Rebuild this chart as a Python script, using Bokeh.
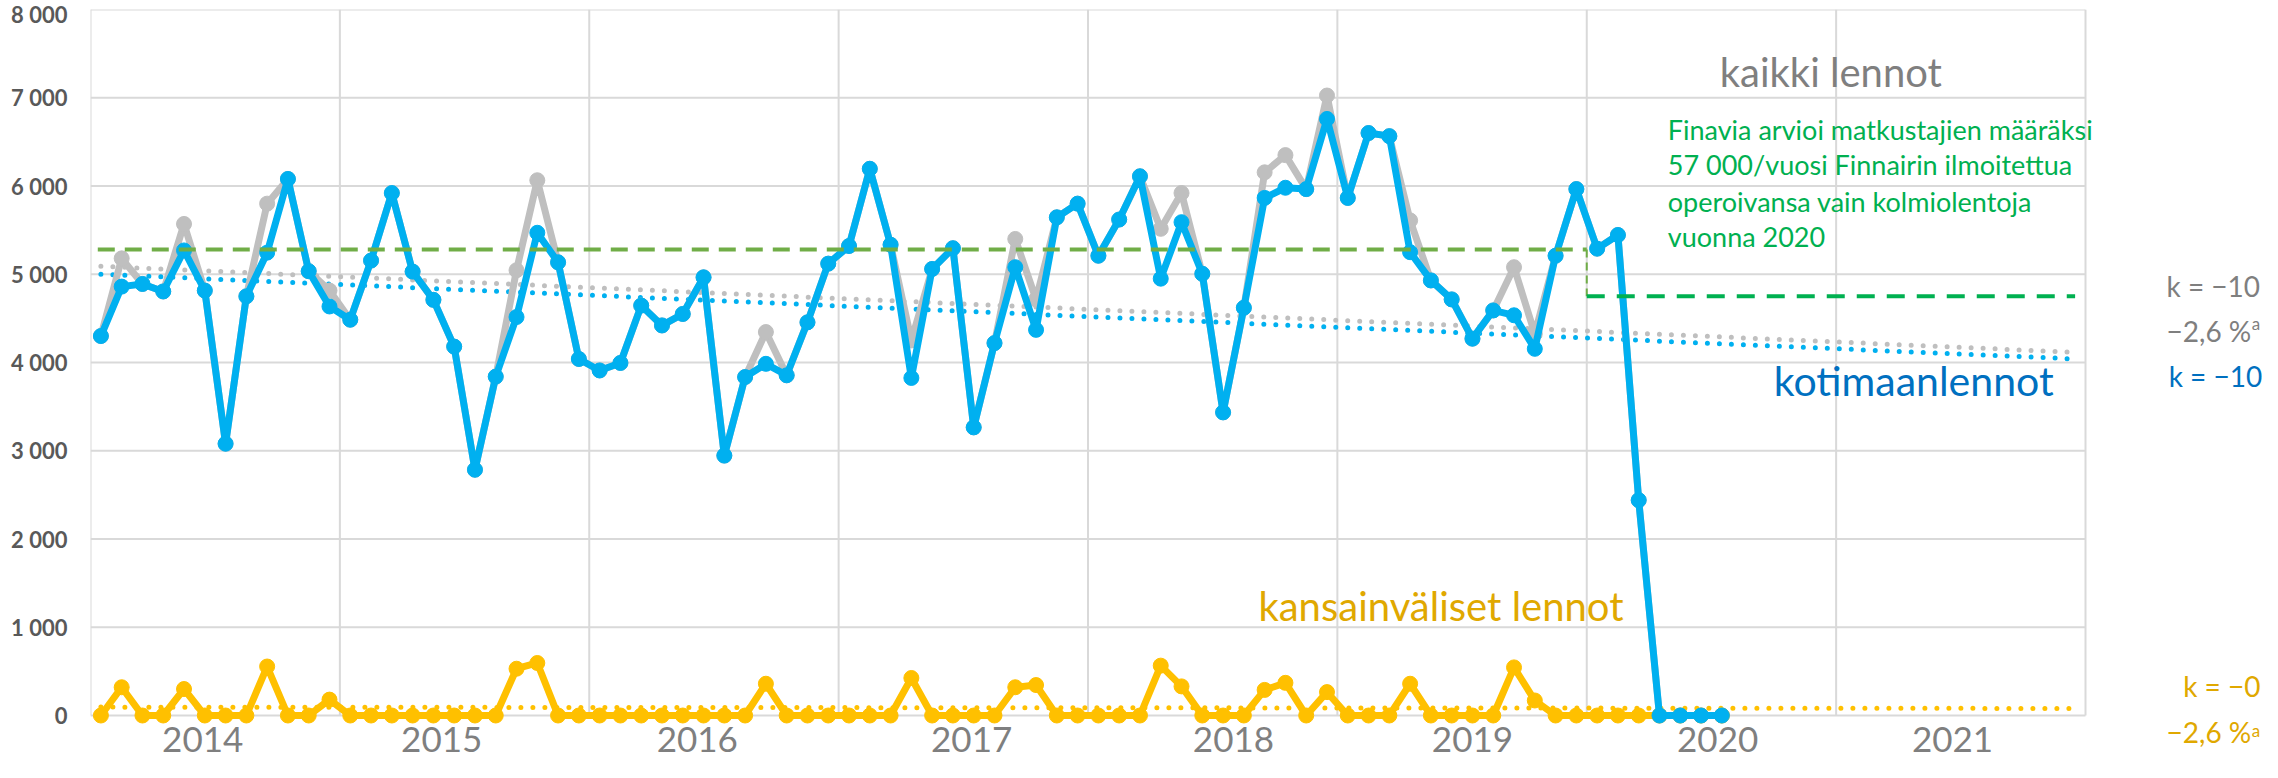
from bokeh.plotting import figure
from bokeh.models import Range1d, FixedTicker, Label, CustomJSTickFormatter
from bokeh.core.properties import value
from bokeh.embed import file_html
from bokeh.resources import INLINE

# ---------------- data (monthly passengers, Jan 2014 -> Jul 2020) ----------------
kotimaan = [4300, 4860, 4890, 4805, 5270, 4815, 3080, 4750, 5245, 6080, 5035, 4635,
            4485, 5155, 5920, 5030, 4710, 4180, 2785, 3840, 4515, 5470, 5135, 4040,
            3910, 3995, 4645, 4420, 4550, 4965, 2945, 3835, 3985, 3855, 4455, 5120,
            5320, 6195, 5335, 3825, 5060, 5295, 3265, 4220, 5080, 4370, 5645, 5800,
            5210, 5620, 6110, 4950, 5590, 5005, 3435, 4620, 5865, 5980, 5965, 6760,
            5865, 6600, 6565, 5250, 4930, 4715, 4270, 4590, 4535, 4155, 5210, 5965,
            5290, 5445, 2440, 0, 0, 0, 0]
kansainvaliset = [0, 320, 0, 0, 300, 0, 0, 0, 555, 0, 0, 180,
                  0, 0, 0, 0, 0, 0, 0, 0, 530, 595, 0, 0,
                  0, 0, 0, 0, 0, 0, 0, 0, 360, 0, 0, 0,
                  0, 0, 0, 425, 0, 0, 0, 0, 320, 345, 0, 0,
                  0, 0, 0, 565, 330, 0, 0, 0, 290, 370, 0, 265,
                  0, 0, 0, 360, 0, 0, 0, 0, 545, 170, 0, 0,
                  0, 0, 0, 0, 0, 0, 0]
kaikki = [4300, 5180, 4890, 4805, 5570, 4815, 3080, 4750, 5800, 6080, 5035, 4815,
          4485, 5155, 5920, 5030, 4710, 4180, 2785, 3840, 5045, 6065, 5135, 4040,
          3910, 3995, 4645, 4420, 4550, 4965, 2945, 3835, 4345, 3855, 4455, 5120,
          5320, 6195, 5335, 4250, 5060, 5295, 3265, 4220, 5400, 4715, 5645, 5800,
          5210, 5620, 6110, 5515, 5920, 5005, 3435, 4620, 6155, 6350, 5965, 7025,
          5865, 6600, 6565, 5610, 4930, 4715, 4270, 4590, 5080, 4325, 5210, 5965,
          5290, 5445, 2440, 0, 0, 0, 0]
month_index = list(range(len(kotimaan)))

# linear trend lines (month index, value)
trend_months = [0, 95]
trend_kaikki = [5090, 4115]
trend_kotimaan = [5000, 4040]
trend_kansainv = [95, 80]

# reference levels (monthly)
finavia_level = 5280
finnair_level = 4750

years = ["2014", "2015", "2016", "2017", "2018", "2019", "2020", "2021"]
y_ticks = [0, 1000, 2000, 3000, 4000, 5000, 6000, 7000, 8000]
y_tick_labels = ["0", "1 000", "2 000", "3 000", "4 000", "5 000", "6 000", "7 000", "8 000"]

# ---------------- layout helpers ----------------
year_label_pos = [5.4, 16.9, 29.2, 42.4, 55.0, 66.5, 78.3, 89.6]
year_label_y = -275
year_grid = [0, 12, 24, 36, 48, 60, 72, 84, 96]
N_MONTHS = 96
Y_MAX = 8000
x = [m + 0.5 for m in month_index]
tx = [m + 0.5 for m in trend_months]

W, H = 2262, 762
LEFT, TOP = 90, 9
PLOT_RIGHT, PLOT_BOTTOM = 2085, 715          # canvas px of the visible plot area
px_per_month = (PLOT_RIGHT - LEFT) / N_MONTHS
px_per_unit = (PLOT_BOTTOM - TOP) / Y_MAX
x_end = (W - LEFT) / px_per_month
y_start = -(H - PLOT_BOTTOM) / px_per_unit

BLUE = "#00B0F0"
GREY = "#BFBFBF"
YELLOW = "#FFC000"
GOLD_TXT = "#E0A800"
DARKBLUE_TXT = "#0070C0"
GREY_TXT = "#7F7F7F"
GRID = "#D9D9D9"
GREEN1 = "#70AD47"
GREEN2 = "#00B050"
FONT = "Lato"

p = figure(width=W, height=H, x_range=Range1d(0, x_end), y_range=Range1d(y_start, Y_MAX),
           output_backend="svg", toolbar_location=None, x_axis_location=None,
           min_border_left=LEFT, min_border_right=0, min_border_top=TOP, min_border_bottom=0)
p.background_fill_color = "white"
p.border_fill_color = "white"
p.outline_line_color = None
p.xgrid.visible = False
p.ygrid.visible = False

p.yaxis.ticker = FixedTicker(ticks=y_ticks)
p.yaxis.formatter = CustomJSTickFormatter(args=dict(pos=y_ticks, lab=y_tick_labels), code="""
let b = 0;
for (let k = 0; k < pos.length; k++) { if (Math.abs(pos[k] - tick) < Math.abs(pos[b] - tick)) b = k; }
return lab[b];
""")
p.yaxis.axis_line_color = None
p.yaxis.major_tick_in = 0
p.yaxis.major_tick_out = 0
p.yaxis.minor_tick_line_color = None
p.yaxis.major_label_text_font = FONT
p.yaxis.major_label_text_font_size = "22px"
p.yaxis.major_label_text_font_style = "bold"
p.yaxis.major_label_text_color = "#595959"
p.yaxis.major_label_standoff = 23

# plot-area grid (horizontal from value ticks, vertical at year boundaries)
p.segment(x0=[0] * len(y_ticks), y0=y_ticks, x1=[N_MONTHS] * len(y_ticks), y1=y_ticks,
          line_color=GRID, line_width=2)
p.segment(x0=year_grid, y0=[0] * len(year_grid), x1=year_grid, y1=[Y_MAX] * len(year_grid),
          line_color=GRID, line_width=2)

# year labels
p.text(x=year_label_pos, y=[year_label_y] * len(years), text=years,
       text_font=value(FONT), text_font_size="35px", text_color=GREY_TXT,
       text_align="center", text_baseline="alphabetic")

# trend lines (dotted)
p.line(tx, trend_kaikki, line_color=GREY, line_width=5, line_dash="0 12", line_cap="round")
p.line(tx, trend_kotimaan, line_color=BLUE, line_width=5, line_dash="0 12", line_cap="round")
p.line(tx, trend_kansainv, line_color=YELLOW, line_width=5, line_dash="0 12", line_cap="round")

# series
p.line(x, kaikki, line_color=GREY, line_width=7, line_join="round")
p.scatter(x, kaikki, size=15, color=GREY)
p.line(x, kansainvaliset, line_color=YELLOW, line_width=7, line_join="round")
p.scatter(x, kansainvaliset, size=15, color=YELLOW)
p.line(x, kotimaan, line_color=BLUE, line_width=7, line_join="round")
p.scatter(x, kotimaan, size=15, color=BLUE)

# reference dashed lines
p.line([0.35, 72], [finavia_level, finavia_level], line_color=GREEN1, line_width=4, line_dash="17 10")
p.line([72, 72], [finavia_level, finnair_level], line_color=GREEN1, line_width=2, line_dash="8 5")
p.line([72, 95.5], [finnair_level, finnair_level], line_color=GREEN2, line_width=4, line_dash="18 12")

def lab(xx, yy, txt, color, size, style="normal"):
    p.add_layout(Label(x=xx, y=yy, text=txt, text_color=color, text_font=FONT,
                       text_font_size=size, text_font_style=style,
                       text_baseline="alphabetic", text_align="left"))

lab(78.4, 7295, "kaikki lennot", GREY_TXT, "40px")
lab(81.0, 3793, "kotimaanlennot", DARKBLUE_TXT, "41px")
lab(56.2, 1244, "kansainväliset lennot", GOLD_TXT, "40px")

note = ["Finavia arvioi matkustajien määräksi",
        "57 000/vuosi  Finnairin ilmoitettua",
        "operoivansa vain kolmiolentoja",
        "vuonna 2020"]
note_y = [6644, 6247, 5828, 5431]
for t, yy in zip(note, note_y):
    lab(75.9, yy, t, GREEN2, "27px")

lab(99.9, 4870, "k = −10", GREY_TXT, "28px")
lab(99.9, 4360, "−2,6 %", GREY_TXT, "28px")
lab(104.0, 4444, "a", GREY_TXT, "17px")
lab(100.0, 3850, "k = −10", DARKBLUE_TXT, "28px")
lab(100.7, 337, "k = −0", GOLD_TXT, "28px")
lab(99.9, -184, "−2,6 %", GOLD_TXT, "28px")
lab(104.0, -168, "a", GOLD_TXT, "17px")

open("out.html", "w").write(file_html(p, INLINE))
